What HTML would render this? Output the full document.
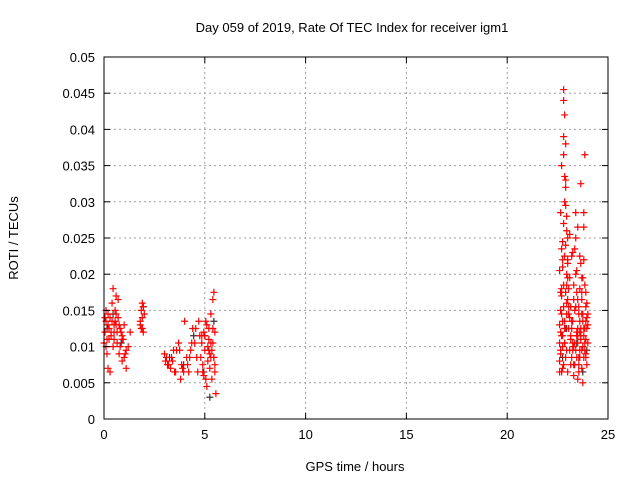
<!DOCTYPE html>
<html><head><meta charset="utf-8"><style>
body{margin:0;background:#fff}
svg{display:block;font-family:"Liberation Sans",sans-serif}
</style></head><body>
<svg id="chart" width="640" height="480">
<rect width="640" height="480" fill="#fff"/>
<text x="352" y="32" font-size="13" text-anchor="middle">Day 059 of 2019, Rate Of TEC Index for receiver igm1</text>
<text x="355" y="471" font-size="13" text-anchor="middle">GPS time / hours</text>
<text x="18" y="238" font-size="13" text-anchor="middle" transform="rotate(-90 18 238)">ROTI / TECUs</text>
<g id="grid"></g><g id="marks"></g><g id="axes"></g>
</svg>
<script>
const xTicks=[0,5,10,15,20,25];
const yTicks=[0,0.005,0.01,0.015,0.02,0.025,0.03,0.035,0.04,0.045,0.05];
const yTickLabels=["0","0.005","0.01","0.015","0.02","0.025","0.03","0.035","0.04","0.045","0.05"];
const redTimes=[0.05,0.1,0.1,0.15,0.2,0.2,0.25,0.3,0.35,0.4,0.45,0.5,0.5,0.55,0.6,0.65,0.7,0.75,0.8,0.85,0.9,0.95,1.0,1.05,1.1,1.2,1.3,0.05,0.15,0.3,0.45,0.6,0.75,0.9,1.0,0.2,0.5,0.7,
0.0,0.1,0.25,0.35,0.55,0.65,0.8,0.9,1.1,0.4,0.6,
1.8,1.85,1.9,1.9,1.95,2.0,1.85,1.95,1.8,1.9,
3.0,3.1,3.2,3.3,3.4,3.5,3.6,3.7,3.8,3.9,4.0,4.1,4.2,4.3,4.4,4.5,4.6,4.7,3.15,3.35,3.55,3.75,3.95,4.15,4.35,4.55,4.75,3.05,3.45,3.85,4.25,4.65,
4.8,4.85,4.9,4.95,5.0,5.05,5.1,5.15,5.2,5.25,5.3,5.35,5.4,5.45,5.5,5.55,4.9,5.0,5.1,5.2,5.3,5.4,5.5,5.05,5.25,5.45,5.35,5.5,4.95,5.15,
5.0,5.2,5.4,4.85,5.3,5.45,
22.6,22.65,22.7,22.7,22.75,22.8,22.8,22.85,22.9,22.9,22.95,23.0,22.65,22.75,22.85,22.95,22.7,22.8,22.9,23.0,22.6,22.7,22.8,22.9,22.75,22.85,22.95,22.65,22.75,22.85,22.95,23.05,23.1,23.15,23.2,23.25,22.8,22.85,22.9,23.0,
23.3,23.35,23.4,23.45,23.5,23.55,23.6,23.65,23.7,23.75,23.8,23.85,23.9,23.95,24.0,23.3,23.4,23.5,23.6,23.7,23.8,23.9,24.0,23.35,23.45,23.55,23.65,23.75,23.85,23.95,23.4,23.5,23.6,23.7,23.8,23.9,23.45,23.55,23.65,23.75,23.85,23.5,23.6,23.7,23.8,23.9,
22.6,22.65,22.7,22.75,22.8,22.85,22.9,22.95,23.0,23.05,23.1,23.15,23.2,23.25,23.3,
22.6,22.7,22.8,22.9,23.0,23.1,23.2,23.3,23.4,23.5,23.6,23.7,23.8,23.9,24.0,22.65,22.75,22.85,22.95,23.05,23.15,23.25,23.35,23.45,23.55,23.65,23.75,23.85,23.95,
22.6,22.7,22.8,22.9,23.0,23.1,23.2,23.3,23.4,23.5,23.6,23.7,23.8,23.9,22.65,22.75,22.85,22.95,23.05,23.15,23.25,23.35,23.45,23.55,23.65,23.75,23.85,23.95];
const redValues=[.012,.010,.015,.009,.007,.013,.011,.014,.012,.016,.018,.013,.011,.015,.017,.012,.014,.013,.010,.012,.008,.011,.013,.009,.007,.010,.012,.014,.011,.0065,.010,.013,.009,.011,.0085,.0145,.012,.0165,
.0105,.0135,.0125,.0115,.0135,.0105,.0125,.0115,.0095,.0135,.0145,
.013,.015,.014,.016,.012,.0145,.0125,.0155,.0135,.0125,
.009,.0085,.0075,.007,.008,.0065,.0095,.0105,.0055,.007,.0135,.0085,.0065,.0095,.0125,.0105,.0085,.0135,.0075,.0085,.0065,.0095,.0065,.0075,.0105,.0125,.0115,.008,.0095,.0075,.0085,.0065,
.0085,.0105,.0065,.012,.0095,.0055,.013,.008,.011,.007,.0145,.0095,.0165,.0085,.012,.0035,.0075,.0115,.0045,.0125,.0085,.0105,.0065,.0135,.009,.0175,.0055,.0075,.006,.010,
.0115,.0095,.0125,.0115,.0105,.0085,
.008,.012,.0065,.018,.022,.0455,.044,.042,.038,.032,.028,.025,.015,.010,.030,.020,.035,.027,.033,.022,.013,.017,.039,.024,.007,.0105,.016,.009,.021,.0125,.026,.018,.014,.011,.0085,.023,.0365,.0335,.0295,.0195,
.010,.015,.020,.012,.0265,.0085,.018,.011,.007,.0145,.022,.0125,.009,.016,.013,.006,.025,.0055,.0135,.0195,.0085,.0175,.0105,.0235,.0115,.0075,.0215,.005,.0365,.014,.0285,.0165,.012,.0095,.0265,.0155,.0205,.0065,.0325,.010,.0185,.0125,.0225,.0145,.0285,.011,
.0065,.0095,.0115,.0135,.0075,.0105,.0085,.0145,.0065,.0125,.0195,.0155,.0225,.0105,.0185,
.0105,.0145,.0185,.0125,.0165,.0095,.0135,.0075,.0155,.0115,.0095,.0175,.0125,.0085,.0145,.0175,.0115,.0135,.0095,.0155,.0075,.0135,.0105,.0085,.0145,.0125,.0195,.0105,.0125,
.0205,.0235,.0155,.0175,.0215,.0255,.0125,.0165,.0095,.0105,.0085,.0165,.0115,.0135,.0285,.0245,.0225,.0185,.0145,.0115,.0095,.0075,.0175,.0155,.0115,.0135,.0095,.0075];
const grayTimes=[0.1,0.4,0.8,1.9,3.2,3.9,4.4,4.9,5.2,5.4,22.7,22.9,23.4,23.7,23.9];
const grayValues=[.0125,.0145,.0105,.0155,.0085,.0075,.0115,.0065,.003,.0135,.0085,.0125,.0105,.0065,.0095];
const X0=104,X1=608,Y0=419,Y1=57;
const xs=t=>X0+(t-0)/(25-0)*(X1-X0);
const ys=v=>Y0-(v-0)/(0.05-0)*(Y0-Y1);
const NS="http://www.w3.org/2000/svg";
function mk(tag,attrs,parent){const e=document.createElementNS(NS,tag);for(const k in attrs)e.setAttribute(k,attrs[k]);parent.appendChild(e);return e;}
const grid=document.getElementById('grid'),marks=document.getElementById('marks'),axes=document.getElementById('axes');
xTicks.forEach((t,i)=>{
  if(i>0&&i<xTicks.length-1){const g=mk('line',{x1:xs(t),x2:xs(t),y1:Y0,y2:Y1,stroke:'#a0a0a0','stroke-dasharray':'2,3'},grid);
  
  }
  mk('line',{x1:xs(t),x2:xs(t),y1:Y0,y2:Y0-6,stroke:'#000'},axes);
  mk('line',{x1:xs(t),x2:xs(t),y1:Y1,y2:Y1+6,stroke:'#000'},axes);
  const l=mk('text',{x:xs(t),y:Y0+20,'font-size':13,'text-anchor':'middle'},axes);l.textContent=t;
  
  
});
yTicks.forEach((v,i)=>{
  if(i>0&&i<yTicks.length-1){const g=mk('line',{x1:X0,x2:X1,y1:ys(v),y2:ys(v),stroke:'#a0a0a0','stroke-dasharray':'2,3'},grid);
  
  }
  mk('line',{x1:X0,x2:X0+6,y1:ys(v),y2:ys(v),stroke:'#000'},axes);
  mk('line',{x1:X1,x2:X1-6,y1:ys(v),y2:ys(v),stroke:'#000'},axes);
  const l=mk('text',{x:X0-9,y:ys(v)+5,'font-size':13,'text-anchor':'end'},axes);l.textContent=yTickLabels[i];
  
  
});
const fr=mk('rect',{x:X0,y:Y1,width:X1-X0,height:Y0-Y1,fill:'none',stroke:'#000'},axes);


function plus(t,v,c,name){const x=xs(t),y=ys(v);
  const p=mk('path',{d:`M${x-3.5},${y}h7M${x},${y-3.5}v7`,stroke:c,'stroke-width':1.2,fill:'none'},marks);
  
  }
grayTimes.forEach((t,i)=>plus(t+0.05,grayValues[i],'#333','gray-point'));
redTimes.forEach((t,i)=>plus(t,redValues[i],'#f00','roti-point'));
</script>
</body></html>
